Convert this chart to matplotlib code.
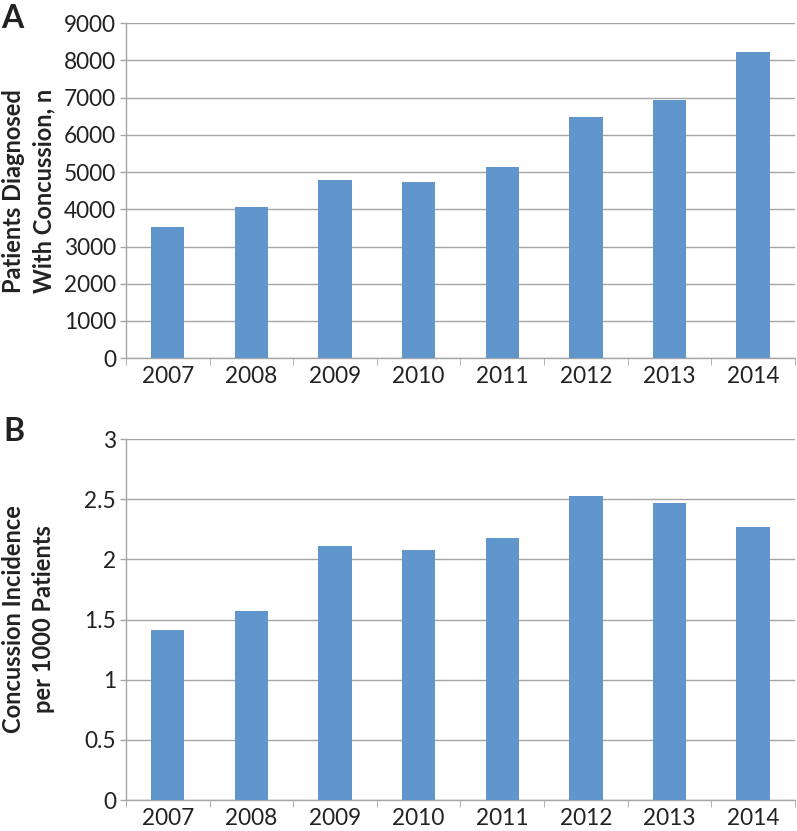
import matplotlib.pyplot as plt
import numpy as np

years = ['2007', '2008', '2009', '2010', '2011', '2012', '2013', '2014']
patients = [3520, 4050, 4780, 4740, 5150, 6480, 6930, 8230]
incidence = [1.41, 1.57, 2.11, 2.08, 2.18, 2.53, 2.47, 2.27]

plt.rcParams['font.family'] = ['Lato', 'DejaVu Sans']

bar_color = '#6096CB'
grid_color = '#A6A6A6'
text_color = '#222222'

fig = plt.figure(figsize=(7.97, 8.31), dpi=100)
ax1 = fig.add_axes([0.158, 0.569, 0.8395, 0.403])
ax2 = fig.add_axes([0.158, 0.0373, 0.8395, 0.4344])


def style(ax, values, ymax, step, ylabel):
    x = np.arange(len(years))
    ax.bar(x, values, width=0.4, color=bar_color, zorder=3)
    ax.set_xlim(-0.5, len(years) - 0.5)
    ax.set_ylim(0, ymax)
    ax.set_yticks(np.arange(0, ymax + step / 2, step))
    ax.set_xticks(x)
    ax.set_xticklabels(years)
    ax.set_xticks(np.arange(-0.5, len(years), 1), minor=True)
    ax.tick_params(axis='x', which='major', length=0, pad=6,
                   labelsize=16.3, labelcolor=text_color)
    ax.tick_params(axis='x', which='minor', length=5, color=grid_color,
                   direction='out')
    ax.tick_params(axis='y', length=4, color=grid_color, width=1,
                   labelsize=16.3, labelcolor=text_color, pad=3)
    ax.grid(axis='y', color=grid_color, linewidth=1, zorder=0)
    for s in ['top', 'right']:
        ax.spines[s].set_visible(False)
    for s in ['left', 'bottom']:
        ax.spines[s].set_color(grid_color)
        ax.spines[s].set_linewidth(1)
    ax.set_ylabel(ylabel, fontsize=17, fontweight='bold', color=text_color,
                  linespacing=1.35)
    ax.yaxis.set_label_coords(-0.106, 0.5)


style(ax1, patients, 9000, 1000, 'Patients Diagnosed\nWith Concussion, n')
style(ax2, incidence, 3, 0.5, 'Concussion Incidence\nper 1000 Patients')
ax2.set_yticklabels(['0', '0.5', '1', '1.5', '2', '2.5', '3'])

fig.text(0.002, 0.995, 'A', fontsize=23, fontweight='bold', va='top', ha='left',
         color=text_color)
fig.text(0.004, 0.498, 'B', fontsize=23, fontweight='bold', va='top', ha='left',
         color=text_color)

fig.savefig('out.png', dpi=100)
